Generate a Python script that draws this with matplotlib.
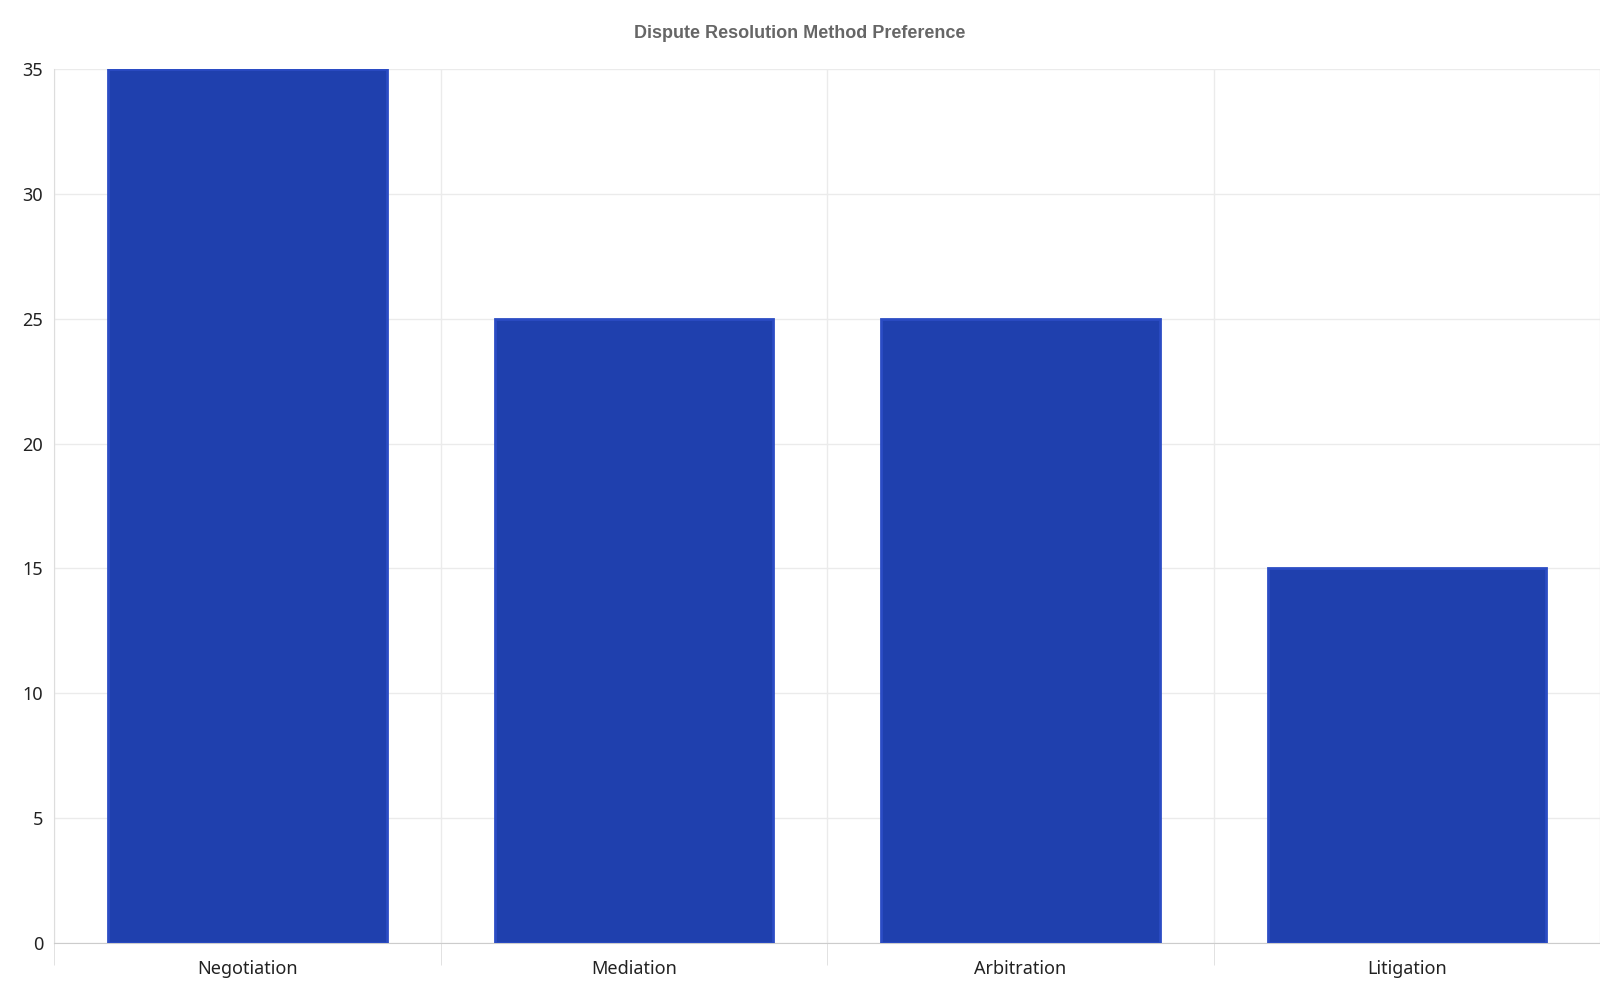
import matplotlib
matplotlib.use("Agg")
import matplotlib.pyplot as plt

categories = ["Negotiation", "Mediation", "Arbitration", "Litigation"]
values = [35, 25, 25, 15]
yticks = [0, 5, 10, 15, 20, 25, 30, 35]

fig = plt.figure(figsize=(16, 10), dpi=100)
ax = fig.add_axes([0.034, 0.057, 0.966, 0.874])
x = list(range(len(categories)))
ax.bar(x, values, width=0.72, color="#1f40ae", edgecolor="#2b4cc4", linewidth=2, zorder=3)
ax.set_xlim(-0.5, len(categories) - 0.5)
ax.set_ylim(0, 35)
ax.set_yticks(yticks)
ax.set_xticks(x)
ax.set_xticklabels(categories, fontsize=13, family="Noto Sans", color="#222222")
ax.set_xticks([i - 0.5 for i in range(len(categories) + 1)], minor=True)
ax.tick_params(axis="x", which="major", length=0, pad=12)
ax.tick_params(axis="x", which="minor", length=16, color="#dddddd")
ax.tick_params(axis="y", length=0, pad=8)
for lbl in ax.get_yticklabels():
    lbl.set_fontsize(13); lbl.set_family("Noto Sans"); lbl.set_color("#222222")
ax.grid(True, axis="y", color="#ebebeb", linewidth=1, zorder=0)
ax.grid(True, axis="x", which="minor", color="#ebebeb", linewidth=1, zorder=0)
for s in ["top", "right"]:
    ax.spines[s].set_visible(False)
ax.spines["left"].set_color("#dddddd")
ax.spines["bottom"].set_color("#cccccc")
fig.text(0.5, 0.966, "Dispute Resolution Method Preference", ha="center", va="center",
         fontsize=13, fontweight="bold", color="#666666", family="Liberation Sans")
fig.savefig("out.png")
